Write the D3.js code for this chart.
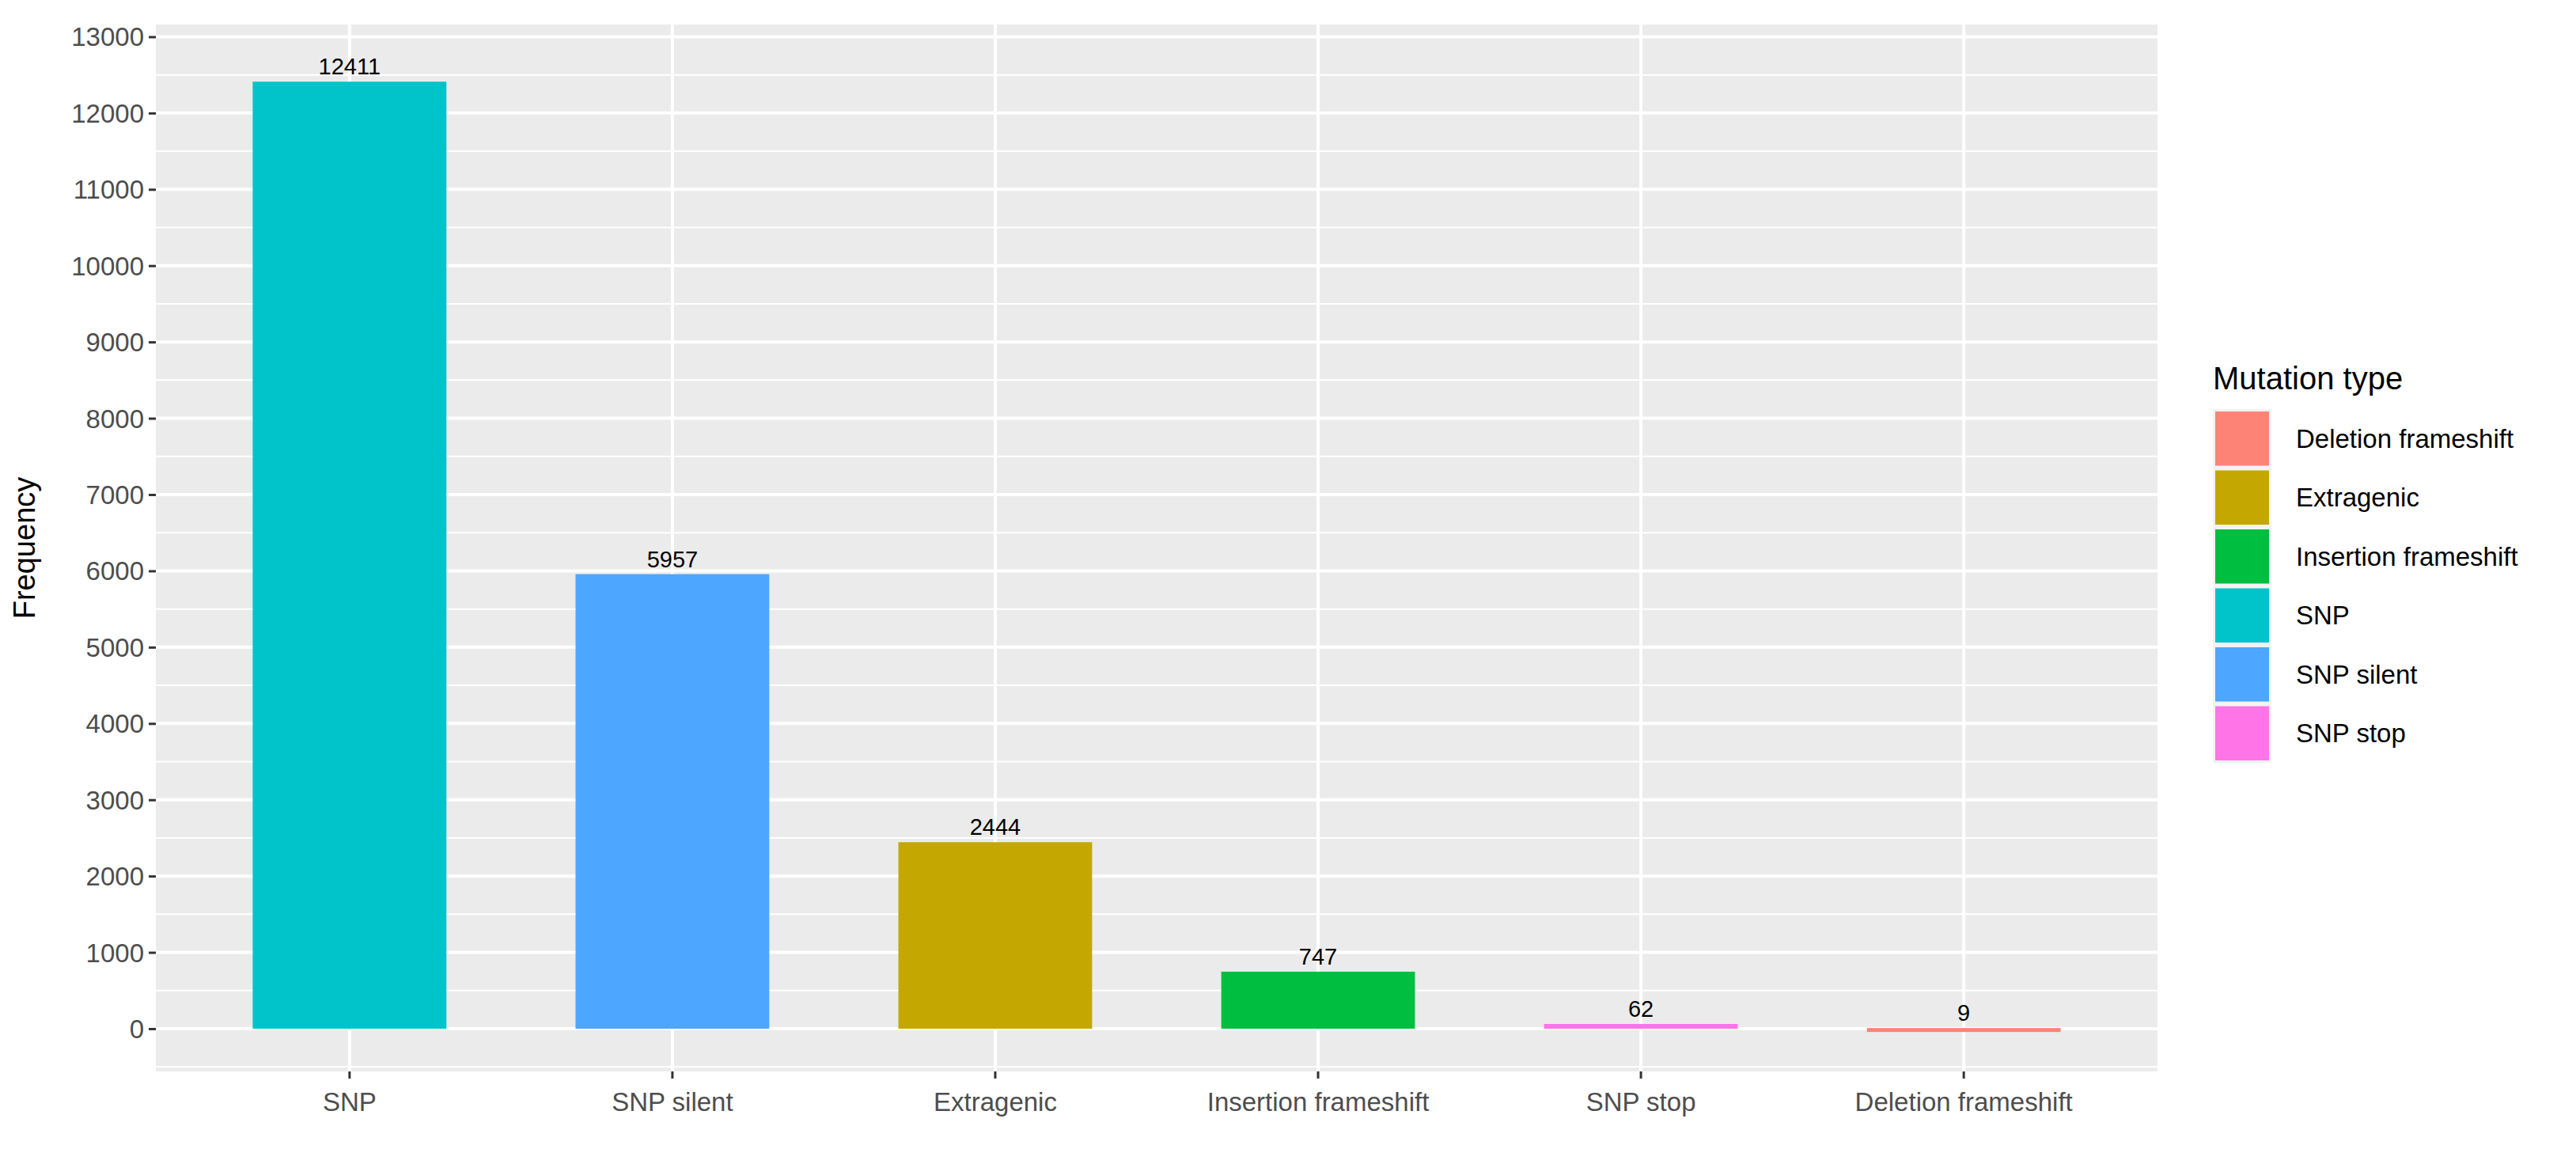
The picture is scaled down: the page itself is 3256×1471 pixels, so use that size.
<!DOCTYPE html>
<html><head><meta charset="utf-8">
<script src="https://cdn.jsdelivr.net/npm/d3@7"></script>
<style>body{margin:0;background:#fff}text{font-family:"Liberation Sans",Arial,sans-serif}</style>
</head><body>
<svg id="chart" width="3256" height="1471"></svg>
<script>
var categories = ["SNP","SNP silent","Extragenic","Insertion frameshift","SNP stop","Deletion frameshift"];
var counts = [12411,5957,2444,747,62,9];
var legendOrder = ["Deletion frameshift","Extragenic","Insertion frameshift","SNP","SNP silent","SNP stop"];
var legendColors = ["#FC8376","#C4A700","#00BE3F","#00C4CA","#4DA6FF","#FF74E6"];
var yTicks = d3.range(0,13001,1000);

var svg = d3.select("#chart");
var m = {left:197, right:2727, top:31, bottom:1354};

var x = d3.scaleBand().domain(categories).range([m.left,m.right]).paddingInner(0.4).paddingOuter(0.3);
var y = d3.scaleLinear().domain([-560,13160]).range([m.bottom,m.top]);
var color = d3.scaleOrdinal().domain(legendOrder).range(legendColors);

svg.append("rect").attr("x",m.left).attr("y",m.top)
  .attr("width",m.right-m.left).attr("height",m.bottom-m.top).attr("fill","#EBEBEB");

// minor grid
svg.append("g").selectAll("line").data(d3.range(-500,13001,1000)).enter().append("line")
  .attr("x1",m.left).attr("x2",m.right).attr("y1",d=>y(d)).attr("y2",d=>y(d))
  .attr("stroke","#fff").attr("stroke-width",2);
// major grid
svg.append("g").selectAll("line").data(yTicks).enter().append("line")
  .attr("x1",m.left).attr("x2",m.right).attr("y1",d=>y(d)).attr("y2",d=>y(d))
  .attr("stroke","#fff").attr("stroke-width",4);
svg.append("g").selectAll("line").data(categories).enter().append("line")
  .attr("x1",d=>x(d)+x.bandwidth()/2).attr("x2",d=>x(d)+x.bandwidth()/2)
  .attr("y1",m.top).attr("y2",m.bottom).attr("stroke","#fff").attr("stroke-width",4);

svg.append("g").selectAll("rect").data(categories).enter().append("rect")
  .attr("x",d=>x(d)).attr("width",x.bandwidth())
  .attr("y",(d,i)=>y(counts[i])).attr("height",(d,i)=>Math.max(5,y(0)-y(counts[i])))
  .attr("fill",d=>color(d));

svg.append("g").selectAll("text").data(categories).enter().append("text")
  .attr("x",d=>x(d)+x.bandwidth()/2).attr("y",(d,i)=>y(counts[i])-9)
  .attr("text-anchor","middle").attr("font-size",29).attr("fill","#000")
  .text((d,i)=>counts[i]);

var yAxis = d3.axisLeft(y).tickValues(yTicks).tickFormat(d3.format("d")).tickSize(9).tickPadding(6);
var gy = svg.append("g").attr("transform","translate("+m.left+",0)").call(yAxis);
var xAxis = d3.axisBottom(x).tickSize(9).tickPadding(10);
var gx = svg.append("g").attr("transform","translate(0,"+m.bottom+")").call(xAxis);
[gy,gx].forEach(function(g){
  g.select(".domain").remove();
  g.selectAll(".tick line").attr("stroke","#333").attr("stroke-width",3);
  g.selectAll(".tick text").attr("font-size",33).attr("fill","#4D4D4D")
    .style("font-family","'Liberation Sans',Arial,sans-serif");
});
gx.selectAll(".tick text").attr("dy","0.95em");
gy.selectAll(".tick text").attr("dy","0.35em");

svg.append("text").attr("transform","translate(44,"+((m.top+m.bottom)/2)+") rotate(-90)")
  .attr("text-anchor","middle").attr("font-size",38).attr("fill","#000").text("Frequency");

var lg = svg.append("g").attr("transform","translate(2797,0)");
lg.append("text").attr("x",0).attr("y",492).attr("font-size",40).attr("fill","#000").text("Mutation type");
var items = lg.selectAll("g.item").data(legendOrder).enter().append("g")
  .attr("transform",(d,i)=>"translate(0,"+(517+i*74.5)+")");
items.append("rect").attr("width",74).attr("height",74.5).attr("fill","#F2F2F2");
items.append("rect").attr("x",3).attr("y",3).attr("width",68).attr("height",68.5).attr("fill",d=>color(d));
items.append("text").attr("x",105).attr("y",37).attr("dy","0.35em")
  .attr("font-size",33).attr("fill","#000").text(d=>d);
</script>
</body></html>
